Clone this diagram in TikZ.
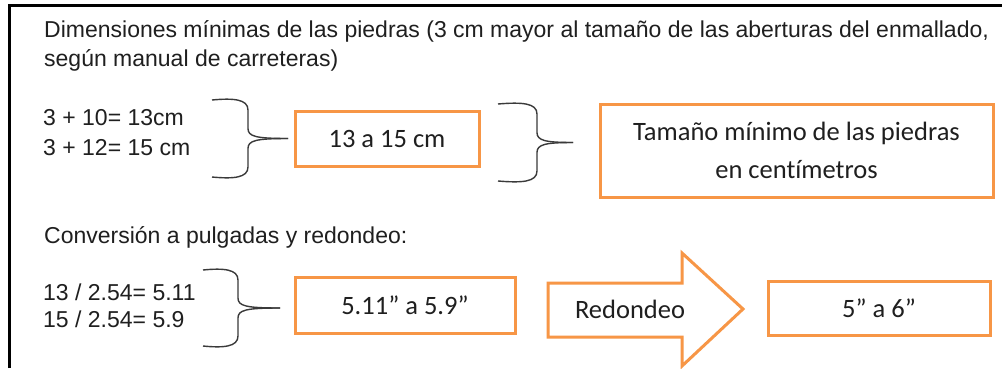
\documentclass[tikz,border=0pt]{standalone}
\usepackage{fontspec}
\setmainfont{Liberation Sans}
\newfontfamily\calib[Ligatures=CommonOff]{Carlito}
\definecolor{orng}{HTML}{F79646}
\definecolor{brc}{HTML}{3A3A3A}
\newcommand\curlyb[5]{% left x, top y, stem x, tip x, bottom y
  \draw[bracestyle] ({#4},{(#2+#5)/2}) .. controls ({#3+8},{(#2+#5)/2}) and ({#3},{(#2+#5)/2-2}) .. ({#3},{(#2+#5)/2-10})
    -- ({#3},{#2+10}) .. controls ({#3},{#2-1}) and ({#3-15},{#2-2}) .. ({#1},{#2});
  \draw[bracestyle] ({#4},{(#2+#5)/2}) .. controls ({#3+8},{(#2+#5)/2}) and ({#3},{(#2+#5)/2+2}) .. ({#3},{(#2+#5)/2+10})
    -- ({#3},{#5-10}) .. controls ({#3},{#5+1}) and ({#3-15},{#5+2}) .. ({#1},{#5});
}
\begin{document}
\begin{tikzpicture}[x=1pt,y=-1pt,
  txt/.style={anchor=base west, inner sep=0pt, font=\fontsize{23}{27}\selectfont, text=black!88},
  boxt/.style={draw=orng, line width=3pt, inner sep=0pt, font=\calib\fontsize{26.5}{38}\selectfont, align=center, text=black!88},
  bracestyle/.style={draw=brc, line width=1.4pt},
  framestyle/.style={draw=black, line width=3pt}]
\useasboundingbox (0,0) rectangle (1002,368);
\fill[white] (0,0) rectangle (1002,368);
\draw[framestyle] (9,368) -- (9,5) -- (1002,5);

\node[txt] (t1) at (44,37) {Dimensiones mínimas de las piedras (3 cm mayor al tamaño de las aberturas del enmallado,};
\node[txt] (t2) at (44,66) {según manual de carreteras)};
\node[txt] (c1) at (43,125) {3 + 10= 13cm};
\node[txt] (c2) at (43,155) {3 + 12= 15 cm};
\node[txt] (t3) at (44,243) {Conversión a pulgadas y redondeo:};
\node[txt] (d1) at (43,300) {13 / 2.54= 5.11};
\node[txt] (d2) at (43,327) {15 / 2.54= 5.9};

\curlyb{212}{100}{248}{288}{177}
\curlyb{498}{104}{537}{573}{181}
\curlyb{203}{270}{238}{280}{346}

\node[boxt, minimum width=184pt, minimum height=55pt] (b1) at (387,138.5) {13 a 15 cm};
\node[boxt, minimum width=393pt, minimum height=93pt] (b2) at (796.5,150.5) {Tamaño mínimo de las piedras\\en centímetros};
\node[boxt, minimum width=220pt, minimum height=56pt] (b3) at (405,305) {5.11” a 5.9”};
\draw[draw=orng, line width=3pt, line join=miter] (548,283) -- (682,283) -- (682,253) -- (743,309) -- (682,366) -- (682,337) -- (548,337) -- cycle;
\node[inner sep=0pt, font=\calib\fontsize{26.5}{38}\selectfont, text=black!88] (r) at (630,309) {Redondeo};
\node[boxt, minimum width=222pt, minimum height=54pt] (b4) at (879,308) {5” a 6”};
\end{tikzpicture}
\end{document}
